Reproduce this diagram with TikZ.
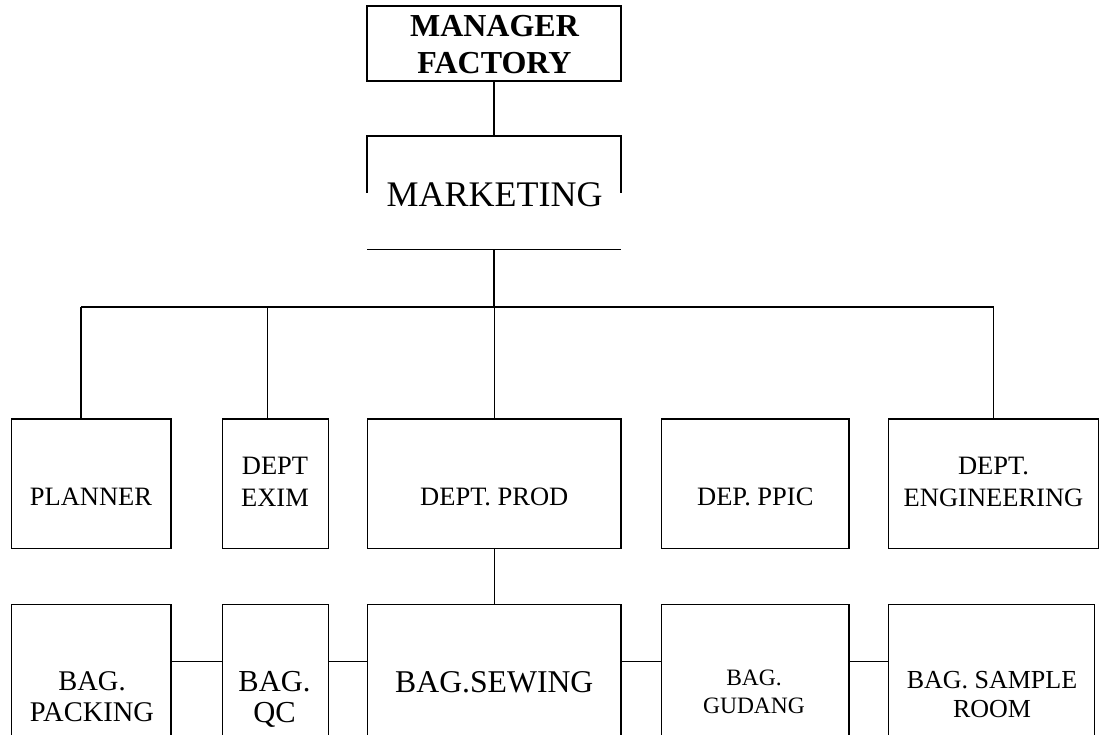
\documentclass[tikz,border=0pt]{standalone}
\usepackage{fontspec}
\setmainfont{Liberation Serif}
\begin{document}
\begin{tikzpicture}[x=1pt, y=-1pt, line width=1.5pt,
  orgbox/.style={draw, inner sep=0pt, outer sep=0pt},
  rowone/.style={orgbox, minimum height=129.7pt},
  rowtwo/.style={orgbox, minimum height=195.3pt},
  orgtext/.style={anchor=north, inner sep=0pt, align=center}]
\useasboundingbox (0,0) rectangle (1104,735);
\clip (0,0) rectangle (1104,735);
\coordinate (bus) at (0,307);
\coordinate (row) at (0,661.7);

\node[orgbox, minimum width=254pt, minimum height=75pt] (mgr) at (494,43.5) {};
\node[orgtext, font=\fontsize{32}{36.7}\selectfont\bfseries] (mgrt) at (494.5,15) {MANAGER\\FACTORY};
\node[inner sep=0pt, outer sep=0pt, minimum width=254pt, minimum height=113.3pt] (mktbox) at (494,192.65) {};
\node[orgtext, font=\fontsize{36}{40}\selectfont] (mktt) at (494.7,181.7) {MARKETING};

\node[rowone, minimum width=159.3pt] (planner) at (91.35,483.85) {};
\node[rowone, minimum width=105.6pt] (exim) at (275.5,483.85) {};
\node[rowone, minimum width=253.3pt] (prod) at (494.35,483.85) {};
\node[rowone, minimum width=187.3pt] (ppic) at (755.35,483.85) {};
\node[rowone, minimum width=209.6pt] (eng) at (993.5,483.85) {};

\node[orgtext, font=\fontsize{26.5}{31.3}\selectfont] (plannert) at (91,487.3) {PLANNER};
\node[orgtext, font=\fontsize{26.5}{31.3}\selectfont] (eximt) at (275,456.7) {DEPT\\EXIM};
\node[orgtext, font=\fontsize{26.5}{31.3}\selectfont] (prodt) at (494.3,487.3) {DEPT. PROD};
\node[orgtext, font=\fontsize{26.5}{31.3}\selectfont] (ppict) at (755.3,487.3) {DEP. PPIC};
\node[orgtext, font=\fontsize{26.5}{31.3}\selectfont] (engt) at (993.5,456.7) {DEPT.\\ENGINEERING};

\node[rowtwo, minimum width=159.3pt] (packing) at (91.35,702.35) {};
\node[rowtwo, minimum width=105.6pt] (qc) at (275.5,702.35) {};
\node[rowtwo, minimum width=253.3pt] (sewing) at (494.35,702.35) {};
\node[rowtwo, minimum width=187.3pt] (gudang) at (755.35,702.35) {};
\node[rowtwo, minimum width=206pt] (sample) at (991.7,702.35) {};

\node[orgtext, font=\fontsize{28.5}{30.5}\selectfont] (packingt) at (92,671) {BAG.\\PACKING};
\node[orgtext, font=\fontsize{30.5}{30.5}\selectfont] (qct) at (274.5,671) {BAG.\\QC};
\node[orgtext, font=\fontsize{31.7}{34}\selectfont] (sewingt) at (494.3,670.7) {BAG.SEWING};
\node[orgtext, font=\fontsize{23.5}{28}\selectfont] (gudangt) at (754,669) {BAG.\\GUDANG};
\node[orgtext, font=\fontsize{26}{28.5}\selectfont] (samplet) at (992,670.7) {BAG. SAMPLE\\ROOM};

% open box round MARKETING
\draw (mktbox.west) -- (mktbox.north west) -- (mktbox.north east) -- (mktbox.east);
\draw (mktbox.south west) -- (mktbox.south east);

\coordinate (plannerin) at ([xshift=-10.3pt]planner.north);
\coordinate (eximin) at ([xshift=-7.8pt]exim.north);
\draw (mgr.south) -- (mktbox.north);
\draw (mktbox.south) -- (mktbox.south |- bus);
\draw (plannerin |- bus) -- (eng.north |- bus);
\draw (plannerin) -- (plannerin |- bus);
\draw (eximin) -- (eximin |- bus);
\foreach \n in {prod, eng}
  \draw (\n.north) -- (\n.north |- bus);
\draw (prod.south) -- (sewing.north);
\foreach \a/\b in {packing/qc, qc/sewing, sewing/gudang, gudang/sample}
  \draw (\a.east |- row) -- (\b.west |- row);
\end{tikzpicture}
\end{document}
